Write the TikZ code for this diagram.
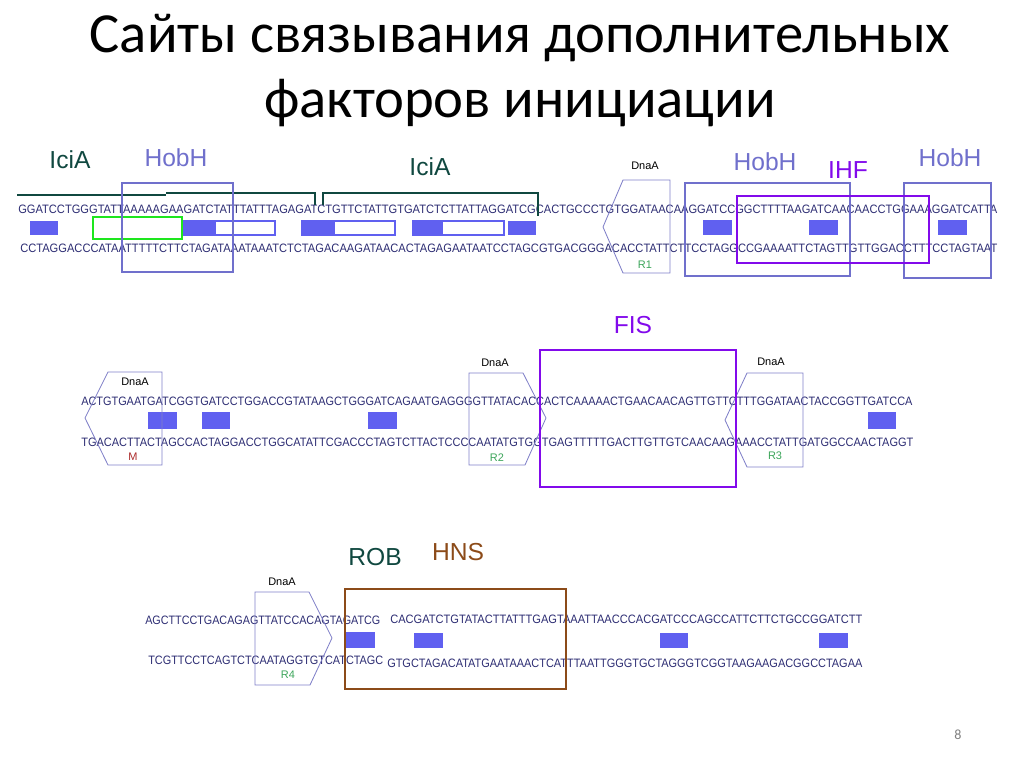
\documentclass[tikz,border=0pt]{standalone}
\usepackage{fontspec}
\setmainfont{Carlito}
\setsansfont{Liberation Sans}
\usetikzlibrary{positioning}

\definecolor{dnatext}{RGB}{45,45,115}
\definecolor{siteblue}{RGB}{96,96,240}
\definecolor{hobhblue}{RGB}{112,112,204}
\definecolor{icia}{RGB}{16,72,64}
\definecolor{ihf}{RGB}{130,10,235}
\definecolor{dnaaline}{RGB}{128,128,200}
\definecolor{rgreen}{RGB}{60,165,90}
\definecolor{mred}{RGB}{170,40,40}
\definecolor{hns}{RGB}{140,75,25}
\definecolor{boxgreen}{RGB}{30,230,30}

\newlength\pxu
\setlength\pxu{0.025cm}
% one strand of sequence, stretched to a given width (in px)
\newcommand{\dna}[2]{\resizebox{#1\pxu}{8.5\pxu}{\sffamily #2}}

\begin{document}
\begin{tikzpicture}[
    x=0.025cm, y=-0.025cm,
    seq/.style={anchor=west, inner sep=0pt, text=dnatext},
    lbl/.style={font=\sffamily\fontsize{17.5}{20}\selectfont, inner sep=0pt},
    small/.style={font=\sffamily\fontsize{7.8}{9}\selectfont, inner sep=0pt},
    hobh/.style={draw=hobhblue, line width=1pt},
    dnaa/.style={draw=dnaaline, line width=0.6pt},
    bind/.style={fill=siteblue},
    half/.style={draw=siteblue, line width=0.8pt},
    bracket/.style={draw=icia, line width=2pt}
]
\useasboundingbox (0,0) rectangle (1024,768);

% Title
\node[font=\fontsize{40.3}{48}\selectfont, anchor=base] (title1) at (520,53) {Сайты связывания дополнительных};
\node[font=\fontsize{40.3}{48}\selectfont, anchor=base] (title2) at (520,118) {факторов инициации};

% ---------------- Row 1 ----------------
\node[seq] (top1) at (18,209) {\dna{979}{GGATCCTGGGTATTAAAAAGAAGATCTATTTATTTAGAGATCTGTTCTATTGTGATCTCTTATTAGGATCGCACTGCCCTGTGGATAACAAGGATCCGGCTTTTAAGATCAACAACCTGGAAAGGATCATTA}};
\node[seq] (bot1) at (20,248) {\dna{977}{CCTAGGACCCATAATTTTTCTTCTAGATAAATAAATCTCTAGACAAGATAACACTAGAGAATAATCCTAGCGTGACGGGACACCTATTCTTCCTAGGCCGAAAATTCTAGTTGTTGGACCTTTCCTAGTAAT}};

% IciA brackets
\draw[bracket] (17,195) -- (166,195);
\draw[bracket] (166,193) -- (315,193) -- (315,205);
\draw[bracket] (323,205) -- (323,193) -- (538,193) -- (538,216);

% binding sites
\fill[bind] (30,221) rectangle (58,235);
\draw[half] (182,221) rectangle (275,235);
\fill[bind] (182,221) rectangle (216,235);
\draw[half] (302,221) rectangle (395,235);
\fill[bind] (302,221) rectangle (335,235);
\draw[half] (413,221) rectangle (504,235);
\fill[bind] (413,221) rectangle (443,235);
\fill[bind] (508,221) rectangle (536,235);
\fill[bind] (703,220) rectangle (732,235);
\fill[bind] (809,220) rectangle (838,235);
\fill[bind] (938,220) rectangle (967,235);

\draw[boxgreen, line width=1.6pt] (93,217) rectangle (182,239);

% HobH / IHF boxes
\draw[hobh] (122,183) rectangle (233,272);
\draw[hobh] (685,183) rectangle (850,276);
\draw[hobh] (904,183) rectangle (991,278);
\draw[ihf, line width=2pt] (737,196) rectangle (929,263);

% DnaA R1
\draw[dnaa] (623,180) -- (670,180) -- (670,273) -- (623,273) -- (603,227) -- cycle;
\node[small] (dnaa1) at (645,166) {DnaA};
\node[small, text=rgreen] (r1) at (645,265) {R1};

\node[lbl, text=icia] (icia1) at (70,160) {IciA};
\node[lbl, text=hobhblue] (hobh1) at (176,158) {HobH};
\node[lbl, text=icia] (icia2) at (430,167) {IciA};
\node[lbl, text=hobhblue] (hobh2) at (765,162) {HobH};
\node[lbl, text=ihf] (ihf) at (848,170) {IHF};
\node[lbl, text=hobhblue] (hobh3) at (950,158) {HobH};

% ---------------- Row 2 ----------------
\node[seq] (top2) at (81,401) {\dna{831}{ACTGTGAATGATCGGTGATCCTGGACCGTATAAGCTGGGATCAGAATGAGGGGTTATACACCACTCAAAAACTGAACAACAGTTGTTCTTTGGATAACTACCGGTTGATCCA}};
\node[seq] (bot2) at (81,442) {\dna{832}{TGACACTTACTAGCCACTAGGACCTGGCATATTCGACCCTAGTCTTACTCCCCAATATGTGGTGAGTTTTTGACTTGTTGTCAACAAGAAACCTATTGATGGCCAACTAGGT}};

\fill[bind] (148,412) rectangle (177,429);
\fill[bind] (202,412) rectangle (230,429);
\fill[bind] (368,412) rectangle (397,429);
\fill[bind] (868,412) rectangle (896,429);

% DnaA M, R2, R3
\draw[dnaa] (108,372) -- (162,372) -- (162,465) -- (108,465) -- (85,418) -- cycle;
\node[small] (dnaam) at (135,382) {DnaA};
\node[small, text=mred] (m) at (133,457) {M};

\draw[dnaa] (469,373) -- (523,373) -- (546,418) -- (525,465) -- (469,465) -- cycle;
\node[small] (dnaa2) at (495,363) {DnaA};
\node[small, text=rgreen] (r2) at (497,458) {R2};

\draw[dnaa] (747,373) -- (803,373) -- (803,467) -- (747,467) -- (725,420) -- cycle;
\node[small] (dnaa3) at (771,362) {DnaA};
\node[small, text=rgreen] (r3) at (775,456) {R3};

% FIS
\draw[ihf, line width=2pt] (540,350) rectangle (736,487);
\node[lbl, text=ihf] (fis) at (633,325) {FIS};

% ---------------- Row 3 ----------------
\node[seq] (top3a) at (145,620) {\dna{235}{AGCTTCCTGACAGAGTTATCCACAGTAGATCG}};
\node[seq] (top3b) at (390,619) {\dna{472}{CACGATCTGTATACTTATTTGAGTAAATTAACCCACGATCCCAGCCATTCTTCTGCCGGATCTT}};
\node[seq] (bot3a) at (148,660) {\dna{235}{TCGTTCCTCAGTCTCAATAGGTGTCATCTAGC}};
\node[seq] (bot3b) at (387,663) {\dna{475}{GTGCTAGACATATGAATAAACTCATTTAATTGGGTGCTAGGGTCGGTAAGAAGACGGCCTAGAA}};

\fill[bind] (346,632) rectangle (375,648);
\fill[bind] (414,633) rectangle (443,648);
\fill[bind] (660,633) rectangle (688,648);
\fill[bind] (819,633) rectangle (848,648);

% DnaA R4
\draw[dnaa] (255,592) -- (309,592) -- (332,638) -- (310,685) -- (255,685) -- cycle;
\node[small] (dnaa4) at (282,582) {DnaA};
\node[small, text=rgreen] (r4) at (288,675) {R4};

% ROB / HNS
\draw[hns, line width=1.6pt] (345,589) rectangle (566,689);
\node[lbl, text=icia] (rob) at (375,557) {ROB};
\node[lbl, text=hns] (hnslbl) at (458,552) {HNS};

% page number
\node[text=gray, font=\fontsize{10}{12}\selectfont] (page) at (958,735) {8};

\end{tikzpicture}
\end{document}
